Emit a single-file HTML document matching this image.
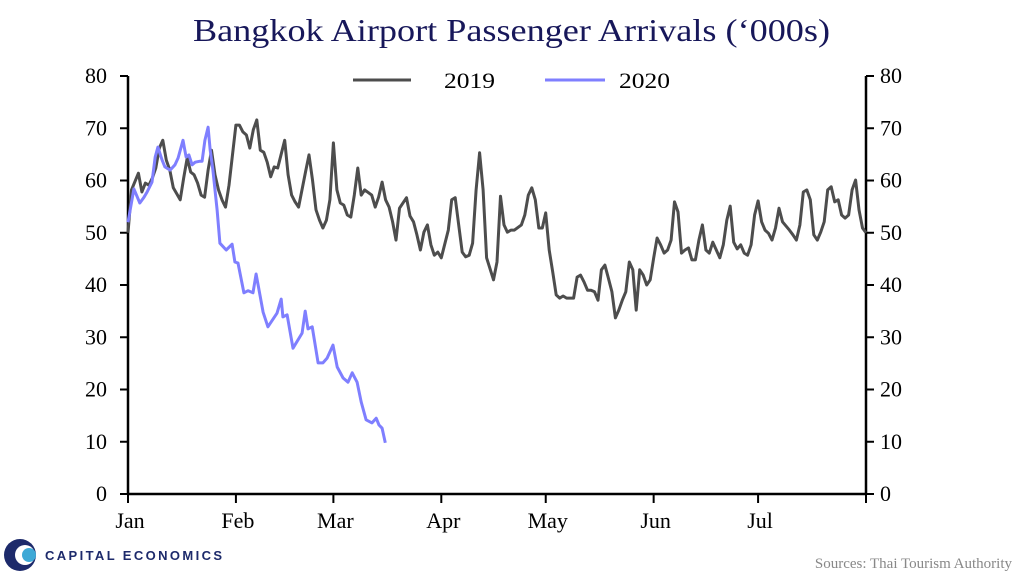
<!DOCTYPE html>
<html><head><meta charset="utf-8"><style>
body{margin:0;background:#fff;}
svg text{font-family:"Liberation Serif",serif;}
</style></head><body>
<svg id="chart" width="1024" height="583" xmlns="http://www.w3.org/2000/svg">
<text x="193" y="41" textLength="637" lengthAdjust="spacingAndGlyphs" font-size="32" fill="#17175a">Bangkok Airport Passenger Arrivals (‘000s)</text>
<g>
<line x1="353" y1="80" x2="411" y2="80" stroke="#4d4d4d" stroke-width="3"/>
<text x="444" y="88" textLength="51" lengthAdjust="spacingAndGlyphs" font-size="22" fill="#000">2019</text>
<line x1="545" y1="80" x2="605" y2="80" stroke="#7f7fff" stroke-width="3"/>
<text x="619" y="88" textLength="51" lengthAdjust="spacingAndGlyphs" font-size="22" fill="#000">2020</text>
</g>
<g id="axes"></g>
<g id="series"></g>
<g>
<circle cx="20" cy="555" r="16" fill="#1d2a6b"/>
<circle cx="25" cy="555" r="10" fill="#fff"/>
<circle cx="29" cy="555" r="7" fill="#3fa9d6"/>
<text x="45" y="560" textLength="177" lengthAdjust="spacing" font-size="13" fill="#1d2a6b" style="font-family:'Liberation Sans',sans-serif" font-weight="bold">CAPITAL ECONOMICS</text>
</g>
<text x="1012" y="568" text-anchor="end" font-size="15" fill="#888">Sources: Thai Tourism Authority</text>
</svg>
<script>
const yTicks=[0,10,20,30,40,50,60,70,80];
const monthLabels=["Jan","Feb","Mar","Apr","May","Jun","Jul"];
const monthDays=[0,31,59,90,120,151,181];
const days19=[0,1,3,4,5,6,7,8,9,10,11,12,13,15,16,17,18,19,20,21,22,23,24,25,26,27,28,29,31,32,33,34,35,36,37,38,39,40,41,42,43,45,46,47,48,49,51,52,53,54,55,56,57,58,59,60,61,62,63,64,65,66,67,68,70,71,72,73,74,75,76,77,78,80,81,82,83,84,85,86,87,88,89,90,92,93,94,95,96,97,98,99,100,101,102,103,105,106,107,108,109,110,111,113,114,115,116,117,118,119,120,121,122,123,124,125,126,128,129,130,131,132,133,134,135,136,137,138,139,140,141,142,143,144,145,146,147,148,149,150,151,152,153,154,155,156,157,158,159,160,161,162,163,164,165,166,167,168,169,170,171,172,173,174,175,176,177,178,179,180,181,182,183,184,185,186,187,188,190,191,192,193,194,195,196,197,198,199,200,201,202,203,204,205,206,207,208,209,210,211,212];
const vals19=[50.0,58.2,61.4,57.8,59.5,59.1,60.5,62.4,66.2,67.7,63.9,62.0,58.6,56.3,60.5,64.3,61.6,61.1,59.5,57.2,56.8,62.0,65.8,61.1,58.2,56.3,54.9,59.1,70.6,70.6,69.3,68.7,66.2,69.7,71.6,65.8,65.4,63.5,60.7,62.6,62.4,67.7,61.1,57.2,55.9,54.9,61.6,64.9,60.1,54.4,52.4,50.9,52.4,56.3,67.2,58.2,55.7,55.3,53.4,53.0,57.2,62.4,57.2,58.2,57.2,54.9,56.8,59.7,56.3,54.9,52.1,48.6,54.7,56.7,53.2,52.1,49.6,46.7,50.1,51.5,47.7,45.7,46.3,45.2,50.5,56.3,56.7,51.5,46.3,45.4,45.7,48.0,58.2,65.3,58.2,45.2,41.0,44.4,57.0,51.5,50.1,50.5,50.5,51.5,53.4,57.2,58.6,56.3,50.9,50.9,53.8,46.7,42.5,38.1,37.5,37.9,37.5,37.5,41.5,41.9,40.6,39.0,39.0,38.7,37.1,42.9,43.8,41.3,38.7,33.7,35.2,37.1,38.7,44.4,42.9,35.2,42.9,41.9,40.0,41.0,45.2,49.0,47.7,46.1,46.7,48.6,55.9,54.0,46.1,46.7,47.1,44.8,44.8,48.6,51.5,46.7,46.1,48.2,46.7,45.2,47.7,52.4,55.1,48.2,46.9,47.7,46.1,45.7,47.7,53.4,56.1,52.1,50.5,49.9,48.6,50.9,54.7,52.1,50.5,49.6,48.6,51.5,57.8,58.2,56.3,49.6,48.6,50.1,52.1,58.2,58.8,55.9,56.3,53.4,52.8,53.4,58.2,60.1,54.4,50.9,50.0];
const days20=[0,1.7,3.4,4.6,5.5,6.9,7.8,8.6,9.8,10.6,12.1,13.5,14.4,15.8,16.7,17.5,18.4,19.3,20.7,21.3,22.1,23,23.6,24.4,25.6,26.4,28.2,29.9,30.7,31.6,33.3,34.5,35.9,36.8,38.8,40.2,42.8,44,44.5,45.7,47.4,50,50.9,51.7,52.9,54.6,56,57.2,58.9,60.1,61.8,63.2,64.4,65.8,67,68.4,70.1,71.3,72.1,73,73.9];
const vals20=[52,58.4,55.7,56.8,57.8,59.7,64.5,66.4,63.9,62.6,62,63,64.3,67.7,64.5,64.9,63,63.5,63.7,63.7,67.7,70.2,65.8,62,54.4,48,46.7,47.8,44.4,44.2,38.5,38.9,38.5,42.1,34.8,32,34.6,37.3,33.9,34.3,27.9,30.8,35,31.6,32,25.1,25.1,26,28.5,24.3,22.2,21.4,23.2,21.4,17.6,14.2,13.6,14.5,13.2,12.6,9.8];

const X0=128,X1=866,Y0=494,Y1=76,DMAX=212;
const xs=d=>X0+d*(X1-X0)/DMAX;
const ys=v=>Y0-v*(Y0-Y1)/80;
const NS="http://www.w3.org/2000/svg";
function mk(tag,attrs,parent){const e=document.createElementNS(NS,tag);for(const k in attrs)e.setAttribute(k,attrs[k]);parent.appendChild(e);return e;}
const ax=document.getElementById('axes');
let a=mk('line',{x1:X0,y1:Y1,x2:X0,y2:Y0,stroke:'#000','stroke-width':2.5},ax);


a=mk('line',{x1:X1,y1:Y1,x2:X1,y2:Y0,stroke:'#000','stroke-width':2.5},ax);


a=mk('line',{x1:X0,y1:Y0,x2:X1,y2:Y0,stroke:'#000','stroke-width':2.5},ax);


yTicks.forEach(t=>{const y=ys(t);
 mk('line',{x1:X0-8,y1:y,x2:X0,y2:y,stroke:'#000','stroke-width':2},ax);
 mk('line',{x1:X1,y1:y,x2:X1+8,y2:y,stroke:'#000','stroke-width':2},ax);
 const l=mk('text',{x:107,y:y+7,'text-anchor':'end','font-size':22},ax);l.textContent=t;
 
 
 const r=mk('text',{x:880,y:y+7,'font-size':22},ax);r.textContent=t;
 
 
});
monthLabels.forEach((m,i)=>{const x=xs(monthDays[i]);
 mk('line',{x1:x,y1:Y0,x2:x,y2:Y0+9,stroke:'#000','stroke-width':2},ax);
 const t=mk('text',{x:x+2,y:528,'text-anchor':'middle','font-size':22},ax);t.textContent=m;
 
 
});
mk('line',{x1:X1,y1:Y0,x2:X1,y2:Y0+9,stroke:'#000','stroke-width':2},ax);
const se=document.getElementById('series');
function draw(ds,vs,col,name){const p=mk('polyline',{points:ds.map((d,i)=>xs(d).toFixed(1)+','+ys(vs[i]).toFixed(1)).join(' '),fill:'none',stroke:col,'stroke-width':3,'stroke-linejoin':'round'},se);
 
 }
draw(days19,vals19,'#4d4d4d','series-2019-line');
draw(days20,vals20,'#7f7fff','series-2020-line');
</script>
</body></html>
